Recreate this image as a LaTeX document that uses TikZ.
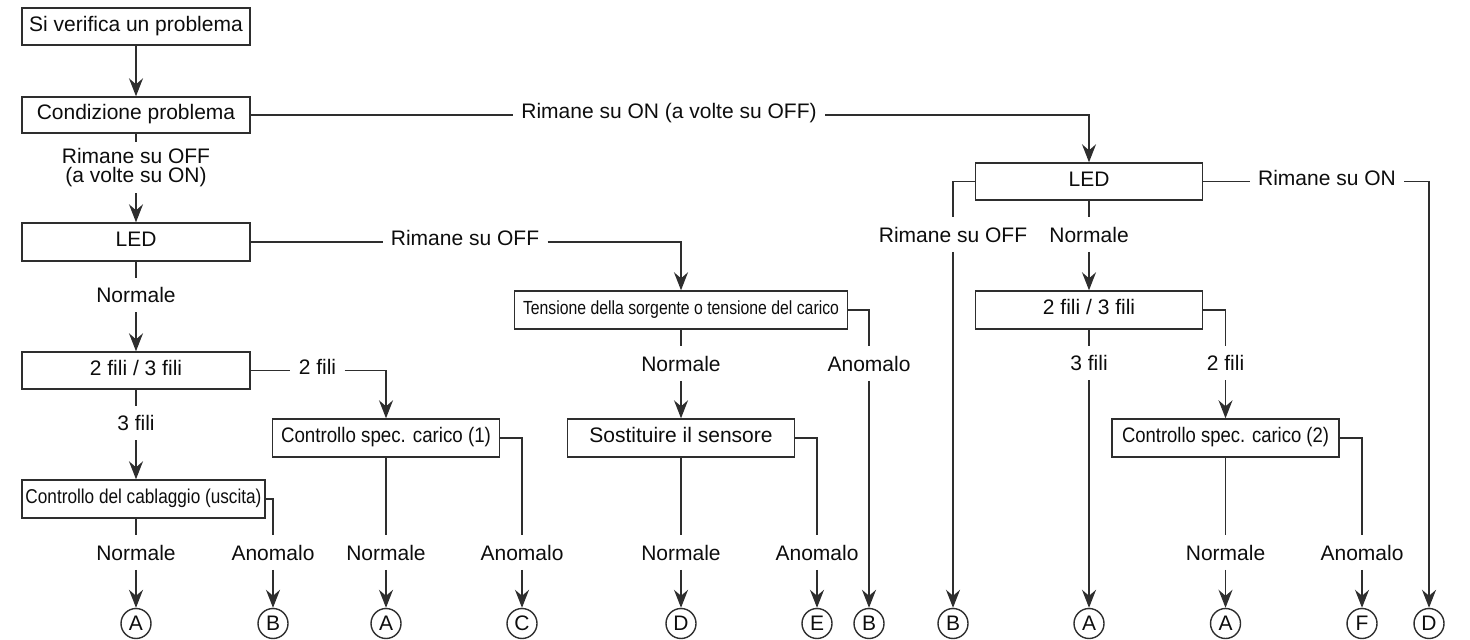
\documentclass[tikz,border=0pt]{standalone}
\usepackage{fontspec}
\setmainfont{Liberation Sans}
\usepackage{graphicx}
\usetikzlibrary{arrows.meta}
\newcommand{\dfont}{\fontsize{10.5}{12}\selectfont}
\newcommand{\fitw}[2]{\resizebox{#1}{\height}{#2}}
\begin{document}
\begin{tikzpicture}[x=0.5pt,y=-0.5pt,
  line/.style={draw=black!82, line width=0.7pt},
  arr/.style={line, -{Stealth[length=9pt,width=7pt,inset=3pt]}},
  box/.style={line, minimum height=19pt, inner sep=0pt, minimum width=#1, font=\dfont, text=black!95, text height=7.8pt, text depth=3pt},
  vl/.style={inner xsep=3pt, inner ysep=4.6pt, text height=7.8pt, text depth=0pt, font=\dfont, text=black!95},
  hl/.style={inner xsep=4pt, inner ysep=2pt, text height=7.8pt, text depth=4pt, font=\dfont, text=black!95},
  circ/.style={line, circle, minimum size=15pt, inner sep=0pt, font=\dfont, text=black!95}
]
\useasboundingbox (0,0) rectangle (1470,640);
% boxes
\node[box=114pt, minimum height=18.5pt] (b1) at (136,26.5) {Si verifica un problema};
\node[box=114pt, minimum height=18pt] (b2) at (136,115) {Condizione problema};
\node[box=114pt] (led1) at (136,242) {LED};
\node[box=114pt, minimum height=18.5pt] (f1) at (136,370.5) {2 fili / 3 fili};
\node[box=121.5pt] (cab) at (143.5,499) {\fitw{118pt}{\fontsize{10}{12}\selectfont Controllo del cablaggio (uscita)}};
\node[box=113.5pt] (s1) at (386,438) {\fitw{105pt}{Controllo spec. carico (1)}};
\node[box=166.5pt] (tens) at (681,310) {\fitw{158pt}{\fontsize{9.5}{12}\selectfont Tensione della sorgente o tensione del carico}};
\node[box=113.5pt] (sost) at (681,438) {Sostituire il sensore};
\node[box=113.5pt, minimum height=18.5pt] (led2) at (1089,181.5) {LED};
\node[box=113.5pt] (f2) at (1089,310) {2 fili / 3 fili};
\node[box=113.5pt] (s2) at (1225.5,438) {\fitw{103.5pt}{Controllo spec. carico (2)}};
% circles
\foreach \n/\x/\t in {A1/136/A, B1/273/B, A2/386/A, C1/522/C, D1/681/D, E1/817/E, B2/869/B, B3/953/B, A3/1089/A, A4/1225.5/A, F1/1362/F, D2/1429/D}
  \node[circ] (\n) at (\x,623.5) {\t};
% labels
\node[inner sep=3pt, align=center, font=\fontsize{10.5}{9.8}\selectfont, text=black!95] (l2l) at (136,167.5) {Rimane su OFF\\(a volte su ON)};
\node[hl] (ltop) at (669,115) {Rimane su ON (a volte su OFF)};
\node[hl] (lrof1) at (465,242) {Rimane su OFF};
\node[hl] (l2f) at (317.5,370.5) {2 fili};
\node[hl] (lron) at (1327,181.5) {Rimane su ON};
\node[vl] (n1) at (136,295) {Normale};
\node[vl] (l3f) at (136,423) {3 fili};
\node[vl] (cn) at (136,552.5) {Normale};
\node[vl] (ca) at (273,552.5) {Anomalo};
\node[vl] (s1n) at (386,552.5) {Normale};
\node[vl] (s1a) at (522,552.5) {Anomalo};
\node[vl] (tn) at (681,363.5) {Normale};
\node[vl] (ta) at (869,363.5) {Anomalo};
\node[vl] (sn) at (681,552.5) {Normale};
\node[vl] (sa) at (817,552.5) {Anomalo};
\node[vl] (rof2) at (953,234.5) {Rimane su OFF};
\node[vl] (n2) at (1089,234.5) {Normale};
\node[vl] (f3) at (1089,363) {3 fili};
\node[vl] (f2f) at (1225.5,363) {2 fili};
\node[vl] (s2n) at (1225.5,552.5) {Normale};
\node[vl] (s2a) at (1362,552.5) {Anomalo};
% connectors
\draw[arr] (b1) -- (b2);
\draw[line] (b2) -- (l2l);
\draw[arr] (l2l) -- (led1);
\draw[line] (b2) -- (ltop);
\draw[arr] (ltop) -| (led2);
\draw[line] (led1) -- (lrof1);
\draw[arr] (lrof1) -| (tens);
\draw[line] (led1) -- (n1);
\draw[arr] (n1) -- (f1);
\draw[line] (f1) -- (l2f);
\draw[arr] (l2f) -| (s1);
\draw[line] (f1) -- (l3f);
\draw[arr] (l3f) -- (l3f |- cab.north);
\draw[line] (cn |- cab.south) -- (cn);
\draw[arr] (cn) -- (A1);
\draw[line] (cab) -| (ca);
\draw[arr] (ca) -- (B1);
\draw[line] (s1) -- (s1n);
\draw[arr] (s1n) -- (A2);
\draw[line] (s1) -| (s1a);
\draw[arr] (s1a) -- (C1);
\draw[line] (tens) -- (tn);
\draw[arr] (tn) -- (sost);
\draw[line] (tens) -| (ta);
\draw[arr] (ta) -- (B2);
\draw[line] (sost) -- (sn);
\draw[arr] (sn) -- (D1);
\draw[line] (sost) -| (sa);
\draw[arr] (sa) -- (E1);
\draw[line] (led2) -| (rof2);
\draw[arr] (rof2) -- (B3);
\draw[line] (led2) -- (n2);
\draw[arr] (n2) -- (f2);
\draw[line] (led2) -- (lron);
\draw[arr] (lron) -| (D2);
\draw[line] (f2) -- (f3);
\draw[arr] (f3) -- (A3);
\draw[line] (f2) -| (f2f);
\draw[arr] (f2f) -- (s2);
\draw[line] (s2) -- (s2n);
\draw[arr] (s2n) -- (A4);
\draw[line] (s2) -| (s2a);
\draw[arr] (s2a) -- (F1);
\end{tikzpicture}
\end{document}
